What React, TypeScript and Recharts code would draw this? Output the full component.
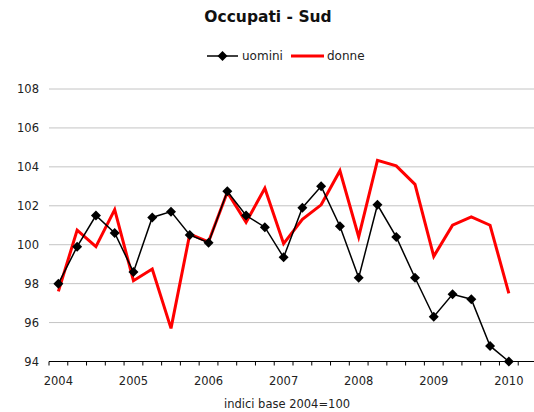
import React from 'react';
import { LineChart, Line, XAxis, YAxis, CartesianGrid } from 'recharts';

// trimestri 2004 Q1 - 2010 Q1 (+ una categoria vuota come nel grafico Excel)
const years = ['2004', '2005', '2006', '2007', '2008', '2009', '2010'];
const uomini = [
  98.0, 99.9, 101.5, 100.6,
  98.6, 101.4, 101.7, 100.5,
  100.1, 102.75, 101.5, 100.9,
  99.35, 101.9, 103.0, 100.95,
  98.3, 102.05, 100.4, 98.3,
  96.3, 97.45, 97.2, 94.8,
  94.0,
];
const donne = [
  97.6, 100.75, 99.9, 101.8,
  98.15, 98.75, 95.7, 100.55,
  100.15, 102.7, 101.15, 102.9,
  100.05, 101.3, 102.05, 103.8,
  100.4, 104.33, 104.05, 103.1,
  99.4, 101.0, 101.43, 101.0,
  97.5,
];
const yTicks = [94, 96, 98, 100, 102, 104, 106, 108];

const N_CAT = 26;
const PLOT_LEFT = 49;
const PLOT_W = 488;
const HALF = PLOT_W / N_CAT / 2;
const AXIS_Y = 361.5;
const FONT = 'Verdana, "DejaVu Sans", sans-serif';

const data = Array.from({ length: N_CAT }, (_, i) => ({
  i,
  uomini: i < uomini.length ? uomini[i] : null,
  donne: i < donne.length ? donne[i] : null,
}));

const Diamond = (props: any) => {
  const { cx, cy } = props;
  if (cx == null || cy == null) return null;
  const r = 5;
  return (
    <polygon
      points={`${cx},${cy - r} ${cx + r},${cy} ${cx},${cy + r} ${cx - r},${cy}`}
      fill="#000"
    />
  );
};

const XTick = (props: any) => {
  const { x, payload } = props;
  const v = payload.value as number;
  const lx = x - HALF;
  return (
    <g>
      <line x1={lx} y1={AXIS_Y} x2={lx} y2={AXIS_Y + 4} stroke="#000" strokeWidth={1} />
      {v === N_CAT - 1 && (
        <line x1={x + HALF} y1={AXIS_Y} x2={x + HALF} y2={AXIS_Y + 4} stroke="#000" strokeWidth={1} />
      )}
      {v % 4 === 0 && v / 4 < years.length && (
        <text x={x} y={381} textAnchor="middle" dominantBaseline="central" fontSize={11.5} fill="#222" fontFamily={FONT}>
          {years[v / 4]}
        </text>
      )}
    </g>
  );
};

export default function App() {
  return (
    <div style={{ position: 'absolute', left: 0, top: 0, width: 534, height: 412, overflow: 'hidden', background: '#fff' }}>
      <svg width={534} height={80} style={{ position: 'absolute', left: 0, top: 0 }}>
        <text x={268} y={17} textAnchor="middle" dominantBaseline="central" fontSize={15.5} fontWeight="bold" fill="#111" fontFamily={FONT}>
          Occupati - Sud
        </text>
        <line x1={207} y1={56} x2={238} y2={56} stroke="#000" strokeWidth={1.5} />
        <polygon points="222.5,51 227.5,56 222.5,61 217.5,56" fill="#000" />
        <text x={242} y={56} dominantBaseline="central" fontSize={12} fill="#222" fontFamily={FONT}>uomini</text>
        <line x1={291} y1={56} x2={324} y2={56} stroke="#ff0000" strokeWidth={3} />
        <text x={327} y={56} dominantBaseline="central" fontSize={12} fill="#222" fontFamily={FONT}>donne</text>
      </svg>
      <div style={{ position: 'absolute', left: 0, top: 0 }}>
        <LineChart
          width={560}
          height={412}
          data={data}
          margin={{ top: 89, right: 560 - PLOT_LEFT - PLOT_W, bottom: 0, left: 0 }}
        >
          <CartesianGrid vertical={false} stroke="#c4c4c4" strokeWidth={1} />
          <XAxis
            dataKey="i"
            type="number"
            domain={[-0.5, N_CAT - 0.5]}
            ticks={data.map((d) => d.i)}
            interval={0}
            height={412 - 89 - (AXIS_Y - 89)}
            axisLine={{ stroke: '#000', strokeWidth: 1 }}
            tickLine={false}
            tick={<XTick />}
            label={{ value: 'indici base 2004=100', position: 'insideBottom', offset: 4, fontSize: 11.5, fill: '#222', fontFamily: FONT, dx: -6 }}
          />
          <YAxis
            width={PLOT_LEFT}
            domain={[94, 108]}
            ticks={yTicks}
            interval={0}
            axisLine={false}
            tickLine={false}
            tickSize={6}
            tickMargin={4}
            tick={{ fontSize: 11.5, fill: '#222', fontFamily: FONT }}
          />
          <Line
            dataKey="donne"
            stroke="#ff0000"
            strokeWidth={3}
            dot={false}
            activeDot={false}
            isAnimationActive={false}
            connectNulls={false}
          />
          <Line
            dataKey="uomini"
            stroke="#000"
            strokeWidth={1.5}
            dot={<Diamond />}
            activeDot={false}
            isAnimationActive={false}
            connectNulls={false}
          />
        </LineChart>
      </div>
    </div>
  );
}
